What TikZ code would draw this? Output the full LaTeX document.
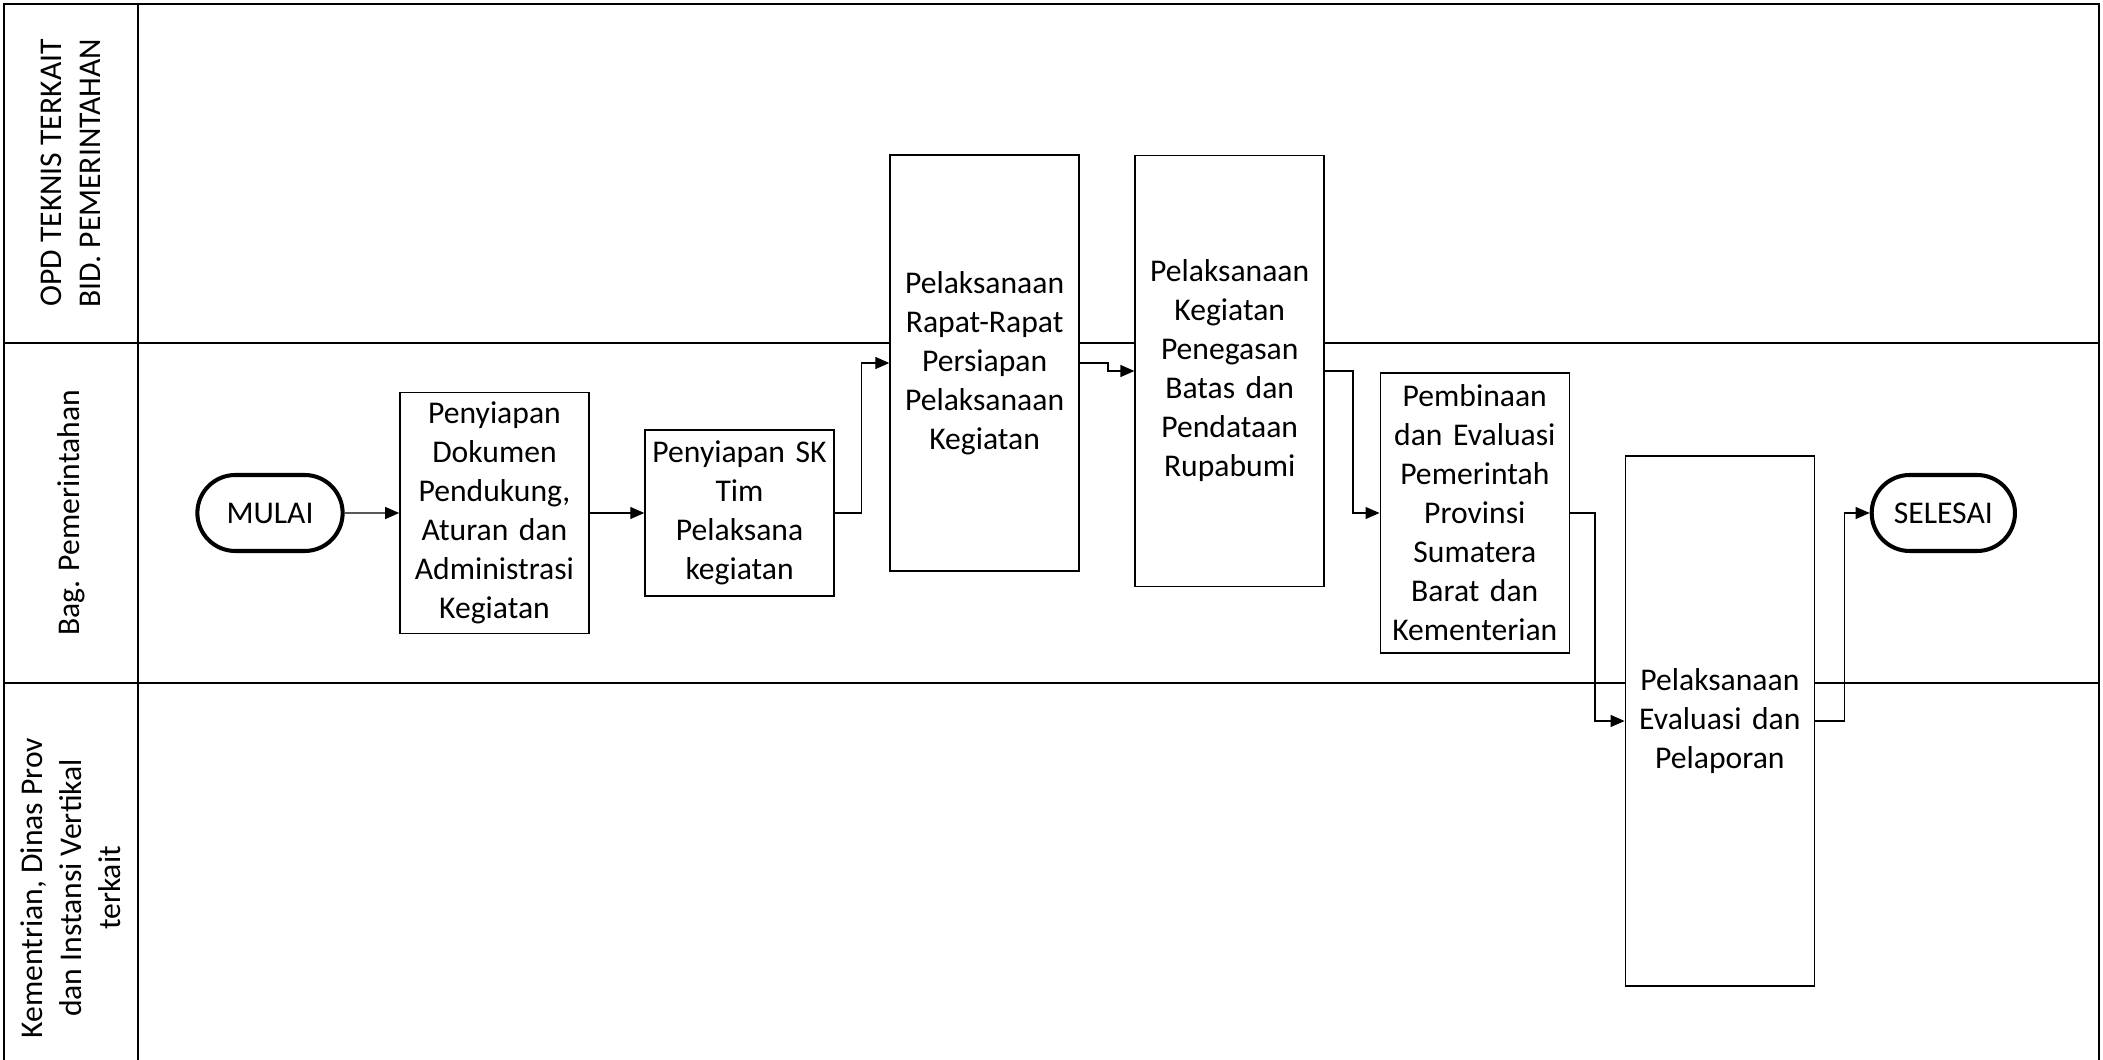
\documentclass[tikz,border=0pt]{standalone}
\usepackage{fontspec}
\setmainfont{Carlito}
\usetikzlibrary{arrows.meta,positioning,shapes.misc}
\tikzset{
  taskbox/.style={draw, fill=white, line width=0.9pt, align=center, text width=3.5cm, minimum width=3.78cm, inner sep=0pt, font=\fontsize{18}{22.2}\selectfont},
  termbox/.style={draw, fill=white, rounded rectangle, line width=2.3pt, minimum width=3.14cm, minimum height=1.52cm, font=\fontsize{18}{22.2}\selectfont},
  flowarrow/.style={-{Triangle[length=0.28cm,width=0.24cm]}, line width=0.7pt},
  laneline/.style={line width=1.4pt},
  lanelabel/.style={rotate=90, align=center, font=\fontsize{18}{22.2}\selectfont}
}

\begin{document}
\begin{tikzpicture}[node distance=1.09cm]
  \useasboundingbox (0,0) rectangle (42.06,-21.2);
  % swimlanes
  \draw[laneline] (0.08,-21.2) -- (0.08,-0.08) -- (41.98,-0.08) -- (41.98,-21.2);
  \draw[laneline] (2.76,-0.08) -- (2.76,-21.2);
  \draw[laneline] (0.08,-6.86) -- (41.98,-6.86);
  \draw[laneline] (0.08,-13.66) -- (41.98,-13.66);
  \node[lanelabel] (opd) at (1.42,-3.46) {OPD TEKNIS TERKAIT\\BID. PEMERINTAHAN};
  \node[lanelabel] (bag) at (1.42,-10.26) {Bag. Pemerintahan};
  \node[lanelabel] (kem) at (1.42,-17.76) {Kementrian, Dinas Prov\\dan Instansi Vertikal\\terkait};

  % steps
  \node[termbox] (mulai) at (5.40,-10.26) {MULAI};
  \node[taskbox, minimum height=4.82cm, right=of mulai] (dokumen) {Penyiapan\\Dokumen\\Pendukung,\\Aturan dan\\Administrasi\\Kegiatan};
  \node[taskbox, minimum height=3.32cm, right=of dokumen] (sk) {Penyiapan SK\\Tim\\Pelaksana\\kegiatan};
  \node[taskbox, minimum height=8.32cm, right=of sk, yshift=3cm] (rapat) {Pelaksanaan\\Rapat-Rapat\\Persiapan\\Pelaksanaan\\Kegiatan};
  \node[taskbox, minimum height=8.62cm, right=of rapat, yshift=-0.16cm] (tegas) {Pelaksanaan\\Kegiatan\\Penegasan\\Batas dan\\Pendataan\\Rupabumi};
  \node[taskbox, minimum height=5.6cm, right=of tegas, yshift=-2.84cm] (bina) {Pembinaan\\dan Evaluasi\\Pemerintah\\Provinsi\\Sumatera\\Barat dan\\Kementerian};
  \node[taskbox, minimum height=10.6cm, right=of bina, yshift=-4.16cm] (evaluasi) {Pelaksanaan\\Evaluasi dan\\Pelaporan};
  \node[termbox, minimum width=3.1cm, right=of evaluasi, yshift=4.16cm] (selesai) {SELESAI};

  % flow
  \draw[flowarrow] (mulai) -- (dokumen);
  \draw[flowarrow] (dokumen) -- (sk);
  \draw[flowarrow] (sk.east) -- ++(0.54,0) |- (rapat.west);
  \draw[flowarrow] (rapat.east) -- ++(0.56,0) |- (tegas.west);
  \draw[flowarrow] (tegas.east) -- ++(0.56,0) |- (bina.west);
  \draw[flowarrow] (bina.east) -- ++(0.5,0) |- (evaluasi.west);
  \draw[flowarrow] (evaluasi.east) -- ++(0.58,0) |- (selesai.west);
\end{tikzpicture}
\end{document}
